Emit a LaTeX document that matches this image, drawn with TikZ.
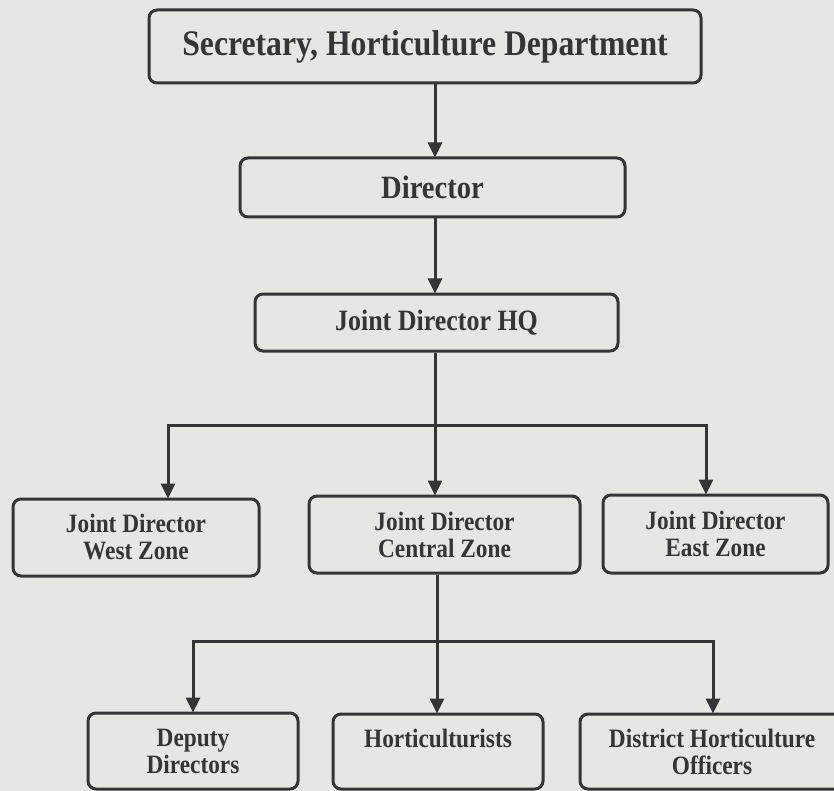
\documentclass[tikz,border=0pt]{standalone}
\usepackage{fontspec}
\usetikzlibrary{arrows.meta}
\newfontfamily\tf{Liberation Serif}[FakeStretch=0.88]
\definecolor{paper}{HTML}{E8E6E2}
\definecolor{ink}{HTML}{353535}
\tikzset{
  orgbox/.style={draw=ink, line width=3pt, rounded corners=8pt, inner sep=0pt,
    align=center, text=ink, font=\tf\bfseries\fontsize{26.5}{27}\selectfont},
  conn/.style={draw=ink, line width=3pt},
  arr/.style={conn, -{Triangle[length=15pt,width=14pt]}, shorten >=-1pt}
}
\begin{document}
\begin{tikzpicture}[x=1pt,y=-1pt]
\clip (0,0) rectangle (834,791);
\fill[paper] (0,0) rectangle (834,791);

\node[orgbox, minimum width=552pt, minimum height=73pt, font=\tf\bfseries\fontsize{36}{38}\selectfont] (sec) at (425,46.5) {Secretary, Horticulture Department};
\node[orgbox, minimum width=385pt, minimum height=59pt, font=\tf\bfseries\fontsize{32.5}{34}\selectfont] (dir) at (432.5,187.5) {Director};
\node[orgbox, minimum width=363pt, minimum height=57pt, font=\tf\bfseries\fontsize{29.5}{31}\selectfont] (hq) at (436.5,322.5) {Joint Director HQ};

\node[orgbox, minimum width=246pt, minimum height=77pt] (west) at (136,537.5) {Joint Director\\West Zone};
\node[orgbox, minimum width=271pt, minimum height=77pt] (central) at (444.5,534.5) {Joint Director\\Central Zone};
\node[orgbox, minimum width=225pt, minimum height=78pt] (east) at (715.5,534) {Joint Director\\East Zone};

\node[orgbox, minimum width=210pt, minimum height=76pt] (deputy) at (193,751) {Deputy\\Directors};
\node[orgbox, minimum width=210pt, minimum height=75pt] (horti) at (438,751.5) {Horticulturists\\\phantom{Officers}};
\node[orgbox, minimum width=264pt, minimum height=75pt] (district) at (712,751.5) {District Horticulture\\Officers};

\coordinate (c1) at (435,0);
\draw[arr] (sec.south -| c1) -- (dir.north -| c1);
\draw[arr] (dir.south -| c1) -- (hq.north -| c1);

\coordinate (bw) at (168,425);
\coordinate (bc) at (435,425);
\coordinate (be) at (706,425);
\draw[conn] (hq.south -| bc) -- (bc);
\draw[conn, line cap=rect] (bw) -- (be);
\draw[arr] (bw) -- (bw |- west.north);
\draw[arr] (bc) -- (bc |- central.north);
\draw[arr] (be) -- (be |- east.north);

\coordinate (dw) at (193,641);
\coordinate (dc) at (437,641);
\coordinate (de) at (713,641);
\draw[conn] (central.south -| dc) -- (dc);
\draw[conn, line cap=rect] (dw) -- (de);
\draw[arr] (dw) -- (dw |- deputy.north);
\draw[arr] (dc) -- (dc |- horti.north);
\draw[arr] (de) -- (de |- district.north);
\end{tikzpicture}
\end{document}
